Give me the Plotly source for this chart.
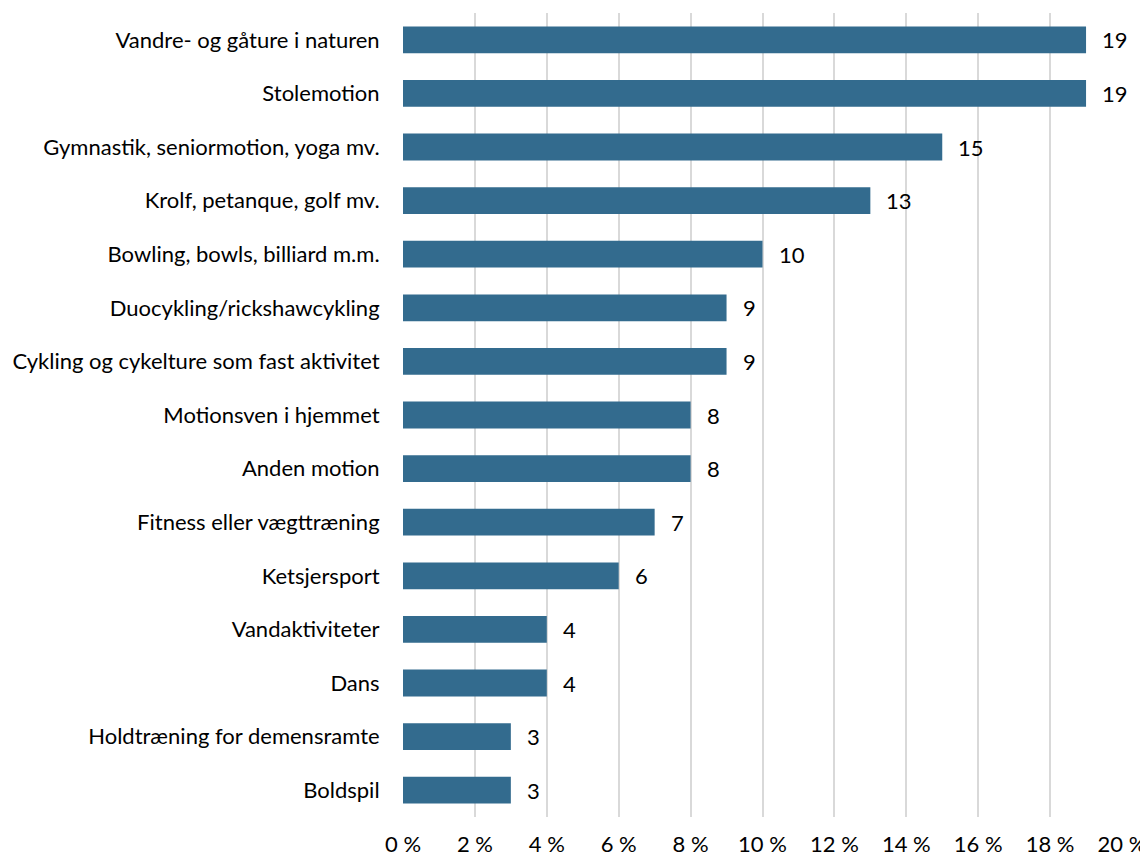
import plotly.graph_objects as go

categories = [
    "Vandre- og gåture i naturen",
    "Stolemotion",
    "Gymnastik, seniormotion, yoga mv.",
    "Krolf, petanque, golf mv.",
    "Bowling, bowls, billiard m.m.",
    "Duocykling/rickshawcykling",
    "Cykling og cykelture som fast aktivitet",
    "Motionsven i hjemmet",
    "Anden motion",
    "Fitness eller vægttræning",
    "Ketsjersport",
    "Vandaktiviteter",
    "Dans",
    "Holdtræning for demensramte",
    "Boldspil",
]
values = [19, 19, 15, 13, 10, 9, 9, 8, 8, 7, 6, 4, 4, 3, 3]
tick_vals = [0, 2, 4, 6, 8, 10, 12, 14, 16, 18, 20]
tick_text = [f"{v} %" for v in tick_vals]

FONT = "Lato"
FS = 22
fig = go.Figure()
fig.add_trace(go.Bar(
    x=values, y=categories, orientation="h",
    marker=dict(color="#336B8E", line=dict(width=0)),
    width=0.5,
))
for c, v in zip(categories, values):
    fig.add_annotation(x=v, y=c, text=str(v), showarrow=False,
                       xanchor="left", xshift=14,
                       font=dict(family=FONT, size=FS, color="#000000"))

fig.update_layout(
    width=1140, height=851,
    margin=dict(l=395, r=26, t=5, b=42, autoexpand=False),
    paper_bgcolor="white", plot_bgcolor="white",
    showlegend=False,
    font=dict(family=FONT, size=FS, color="#000000"),
    bargap=0.5,
)
fig.update_xaxes(range=[0, 20], tickvals=tick_vals, ticktext=tick_text,
                 automargin=False,
                 showgrid=True, gridcolor="#D9D9D9", gridwidth=1.5,
                 zeroline=False, showline=False,
                 ticks="outside", ticklen=8, tickcolor="rgba(0,0,0,0)",
                 tickfont=dict(family=FONT, size=FS, color="#000000"))
fig.update_yaxes(categoryorder="array", categoryarray=categories[::-1],
                 automargin=False,
                 showgrid=False, zeroline=False, showline=False,
                 ticks="outside", ticklen=18, tickcolor="rgba(0,0,0,0)",
                 tickfont=dict(family=FONT, size=FS, color="#000000"))

fig.write_html("out.html")
